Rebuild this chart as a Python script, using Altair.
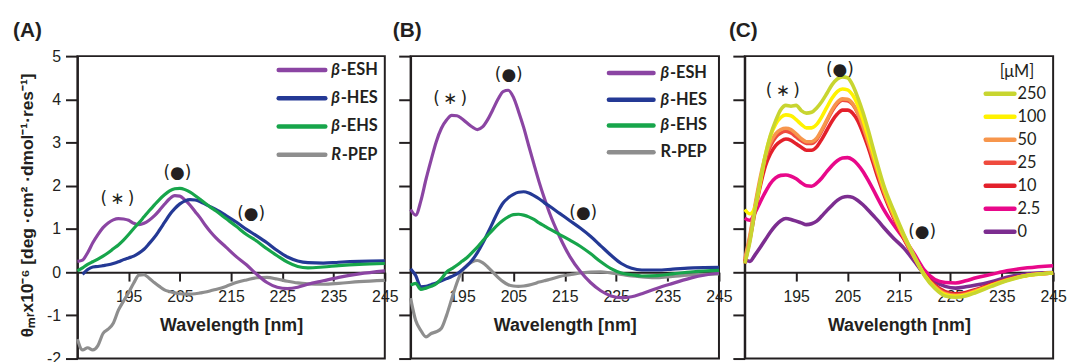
import altair as alt
import pandas as pd

# ---------------- data ----------------
WL = [185, 186, 187, 188, 189, 190, 191, 192, 193, 194, 195, 196, 197, 198, 199,
      200, 201, 202, 203, 204, 205, 206, 207, 208, 209, 210, 211, 212,
      214, 216, 218, 220, 222, 224, 226, 228, 230, 233, 236, 240, 245]

# Panel A
A_ESH = [0.25, 0.28, 0.45, 0.68, 0.87, 1.03, 1.14, 1.21, 1.24, 1.23, 1.2, 1.13, 1.1, 1.13, 1.2,
         1.3, 1.43, 1.57, 1.7, 1.77, 1.76, 1.67, 1.55, 1.4, 1.25, 1.08, 0.93, 0.8,
         0.58, 0.36, 0.17, -0.05, -0.24, -0.35, -0.38, -0.35, -0.28, -0.2, -0.12, -0.04, 0.03]
A_HES = [None, -0.05, 0.06, 0.12, 0.13, 0.15, 0.17, 0.2, 0.24, 0.29, 0.33, 0.37, 0.44, 0.53, 0.66,
         0.8, 0.97, 1.15, 1.33, 1.47, 1.58, 1.65, 1.68, 1.67, 1.63, 1.57, 1.51, 1.45,
         1.31, 1.16, 0.99, 0.84, 0.68, 0.5, 0.35, 0.26, 0.22, 0.21, 0.23, 0.25, 0.26]
A_EHS = [0.03, 0.1, 0.18, 0.24, 0.3, 0.37, 0.45, 0.54, 0.63, 0.74, 0.87, 1.01, 1.14, 1.28, 1.42,
         1.55, 1.68, 1.79, 1.88, 1.93, 1.94, 1.91, 1.85, 1.77, 1.68, 1.59, 1.5, 1.42,
         1.24, 1.06, 0.87, 0.72, 0.54, 0.38, 0.23, 0.13, 0.1, 0.12, 0.15, 0.18, 0.2]
A_PEP = [-1.55, -1.8, -1.75, -1.8, -1.7, -1.42, -1.32, -1.18, -0.88, -0.67, -0.47, -0.25, -0.07, -0.06, -0.14,
         -0.24, -0.33, -0.41, -0.45, -0.48, -0.5, -0.51, -0.51, -0.5, -0.48, -0.46, -0.43, -0.4,
         -0.33, -0.24, -0.18, -0.13, -0.12, -0.16, -0.21, -0.25, -0.27, -0.28, -0.26, -0.22, -0.19]

# Panel B
B_ESH = [1.45, 1.32, 1.65, 2.15, 2.6, 3.02, 3.33, 3.52, 3.63, 3.62, 3.55, 3.45, 3.36, 3.3, 3.36,
         3.53, 3.76, 4.0, 4.18, 4.21, 4.05, 3.72, 3.35, 2.92, 2.5, 2.09, 1.72, 1.38,
         0.82, 0.36, 0.02, -0.24, -0.43, -0.55, -0.59, -0.57, -0.5, -0.37, -0.26, -0.12, -0.02]
B_HES = [0.08, -0.08, -0.34, -0.33, -0.29, -0.25, -0.2, -0.15, -0.1, -0.04, 0.05, 0.15, 0.28, 0.45, 0.66,
         0.9, 1.15, 1.4, 1.6, 1.72, 1.8, 1.85, 1.86, 1.83, 1.77, 1.7, 1.61, 1.53,
         1.36, 1.19, 1.02, 0.83, 0.61, 0.39, 0.2, 0.09, 0.05, 0.05, 0.07, 0.1, 0.11]
B_EHS = [-0.3, -0.26, -0.4, -0.37, -0.33, -0.27, -0.15, 0.0, 0.08, 0.16, 0.25, 0.34, 0.46, 0.58, 0.72,
         0.85, 0.98, 1.1, 1.2, 1.28, 1.33, 1.34, 1.32, 1.28, 1.22, 1.14, 1.07, 1.0,
         0.87, 0.74, 0.6, 0.43, 0.24, 0.08, -0.02, -0.06, -0.09, -0.08, -0.04, 0.01, 0.04]
B_PEP = [-0.6, -1.12, -1.35, -1.5, -1.42, -1.38, -1.3, -1.0, -0.62, -0.25, 0.02, 0.16, 0.24, 0.27, 0.22,
         0.12, 0.0, -0.12, -0.22, -0.29, -0.32, -0.33, -0.32, -0.3, -0.27, -0.23, -0.2, -0.17,
         -0.1, -0.06, -0.02, 0.0, 0.01, -0.02, -0.05, -0.09, -0.11, -0.13, -0.1, -0.06, -0.04]

# Panel C (concentration series, uM)
C_0 = [0.3, 0.25, 0.4, 0.57, 0.75, 0.93, 1.08, 1.19, 1.24, 1.22, 1.18, 1.14, 1.1, 1.12, 1.18,
       1.3, 1.43, 1.55, 1.66, 1.73, 1.75, 1.73, 1.66, 1.56, 1.44, 1.31, 1.18, 1.04,
       0.78, 0.55, 0.25, -0.05, -0.22, -0.33, -0.37, -0.34, -0.3, -0.22, -0.12, -0.04, -0.01]
C_2P5 = [1.25, 1.2, 1.38, 1.62, 1.85, 2.05, 2.18, 2.24, 2.25, 2.22, 2.16, 2.07, 2.0, 1.99, 2.06,
         2.18, 2.33, 2.47, 2.58, 2.64, 2.65, 2.6, 2.49, 2.33, 2.13, 1.91, 1.68, 1.46,
         1.09, 0.77, 0.42, 0.04, -0.17, -0.24, -0.25, -0.2, -0.13, -0.05, 0.03, 0.1, 0.15]
C_10 = [0.2, 0.75, 1.4, 1.98, 2.45, 2.74, 2.93, 3.03, 3.08, 3.05, 2.97, 2.89, 2.82, 2.82, 2.9,
        3.08, 3.29, 3.5, 3.66, 3.75, 3.75, 3.68, 3.5, 3.22, 2.89, 2.52, 2.15, 1.82,
        1.25, 0.76, 0.33, -0.05, -0.3, -0.45, -0.5, -0.47, -0.4, -0.28, -0.17, -0.07, -0.02]
C_25 = [0.25, 0.8, 1.5, 2.1, 2.6, 2.92, 3.12, 3.22, 3.26, 3.22, 3.13, 3.04, 2.98, 2.98, 3.07,
        3.27, 3.5, 3.73, 3.9, 3.98, 3.97, 3.88, 3.67, 3.36, 3.0, 2.62, 2.24, 1.88,
        1.29, 0.79, 0.34, -0.06, -0.33, -0.48, -0.53, -0.5, -0.42, -0.3, -0.18, -0.07, -0.02]
C_50 = [0.3, 0.85, 1.55, 2.18, 2.68, 3.0, 3.2, 3.3, 3.33, 3.3, 3.2, 3.09, 3.02, 3.02, 3.1,
        3.3, 3.53, 3.76, 3.93, 4.01, 4.0, 3.9, 3.69, 3.38, 3.02, 2.64, 2.26, 1.9,
        1.3, 0.8, 0.34, -0.07, -0.34, -0.5, -0.54, -0.51, -0.43, -0.3, -0.18, -0.07, -0.02]
C_100 = [1.45, 1.35, 1.5, 2.05, 2.7, 3.15, 3.42, 3.58, 3.64, 3.62, 3.53, 3.42, 3.34, 3.34, 3.42,
         3.6, 3.82, 4.03, 4.18, 4.24, 4.22, 4.1, 3.87, 3.53, 3.15, 2.75, 2.35, 1.98,
         1.36, 0.84, 0.36, -0.07, -0.36, -0.52, -0.56, -0.53, -0.45, -0.31, -0.19, -0.08, -0.02]
C_250 = [0.2, 0.7, 1.45, 2.1, 2.7, 3.17, 3.5, 3.76, 3.86, 3.84, 3.86, 3.74, 3.68, 3.7, 3.8,
         3.95, 4.14, 4.34, 4.47, 4.52, 4.5, 4.33, 4.04, 3.7, 3.3, 2.86, 2.43, 2.03,
         1.42, 0.86, 0.36, -0.09, -0.38, -0.55, -0.58, -0.55, -0.47, -0.33, -0.2, -0.08, -0.02]

AB_NAMES = ["\u03b2-ESH", "\u03b2-HES", "\u03b2-EHS", "R-PEP"]
AB_COLORS = ["#8b45a3", "#243995", "#17a54b", "#8e8e8e"]
C_NAMES = ["250", "100", "50", "25", "10", "2.5", "0"]
C_COLORS = ["#c8d530", "#fff200", "#f7964c", "#ef4b3e", "#e3202b", "#e8088a", "#7c2d90"]

ANN_TEXT = ["(\u2009\u2217\u2009)", "(\u25cf)", "(\u25cf)"]
ANN_A_WL = [192.8, 204.5, 218.9]
ANN_A_VAL = [1.7, 2.3, 1.35]
ANN_B_WL = [192.7, 204.1, 218.6]
ANN_B_VAL = [4.0, 4.57, 1.36]
ANN_C_WL = [192.4, 203.5, 219.5]
ANN_C_VAL = [4.19, 4.68, 0.92]

X_TICKS = [195, 205, 215, 225, 235, 245]
Y_TICKS = [-2, -1, 0, 1, 2, 3, 4, 5]
Y_TITLE = "\u03b8\u2098\u1d63x10\u207b\u2076 [deg \u00b7cm\u00b2 \u00b7dmol\u207b\u00b9\u00b7res\u207b\u00b9]"

# ---------------- styling / layout ----------------
H = 305
INK = "#231f20"
AXF = "Liberation Sans"
LGF = "Lato"
ANF = "DejaVu Sans"
DUMMY = pd.DataFrame({"d": [0]})


def xenc():
    return alt.X("wl:Q", scale=alt.Scale(domain=[185, 245], nice=False, zero=False),
                 axis=alt.Axis(values=X_TICKS, title="Wavelength [nm]", offset=-(H * 2 / 7),
                               grid=False, labelFlush=False, labelOverlap=False,
                               domainColor=INK, domainWidth=2, tickColor=INK, tickWidth=2, tickSize=9,
                               labelFont=AXF, labelFontSize=16, labelColor=INK, labelPadding=8,
                               titleFont=AXF, titleFontSize=18, titleFontWeight="bold",
                               titleColor=INK, titlePadding=12))


def yenc(show):
    if show:
        ax = alt.Axis(values=Y_TICKS, grid=False, domainColor=INK, domainWidth=2, tickColor=INK,
                      tickWidth=2, tickSize=12, labelFont=AXF, labelFontSize=16, labelColor=INK,
                      labelPadding=5, labelExpr="'' + datum.value",
                      title=Y_TITLE, titleFont=AXF, titleFontSize=17.5, titleFontWeight="bold",
                      titleColor=INK, titleX=-50, titleY=150, titleBaseline="middle")
    else:
        ax = alt.Axis(values=Y_TICKS, grid=False, labels=False, title=None, domainColor=INK,
                      domainWidth=2, tickColor=INK, tickWidth=2, tickSize=12)
    return alt.Y("val:Q", scale=alt.Scale(domain=[-2, 5], nice=False, zero=False), axis=ax)


def curve(vals, color, sw=3.2):
    df = pd.DataFrame({"wl": WL, "val": vals}).dropna()
    return alt.Chart(df).mark_line(color=color, strokeWidth=sw, interpolate="monotone").encode(
        x=xenc(), y=yenc(True))


def text_at(x, y, t, size, weight="normal", style="normal", font=LGF, align="left", color=INK):
    return alt.Chart(DUMMY).mark_text(font=font, fontSize=size, fontWeight=weight, fontStyle=style,
                                      align=align, baseline="middle", color=color).encode(
        x=alt.value(x), y=alt.value(y), text=alt.value(t))


def swatch(x1, x2, y, color, sw=4.5):
    return alt.Chart(DUMMY).mark_rule(color=color, strokeWidth=sw, strokeCap="round").encode(
        x=alt.value(x1), x2=alt.value(x2), y=alt.value(y))


def annotations(wls, vals):
    df = pd.DataFrame({"wl": wls, "val": vals, "t": ANN_TEXT})
    return alt.Chart(df).mark_text(font=ANF, fontSize=17, color=INK, baseline="middle").encode(
        x=xenc(), y=yenc(True), text="t:N")


def panel(width, series, ann, show_y, label, label_x, legend, sw):
    base = alt.Chart(pd.DataFrame({"wl": [185], "val": [0]})).mark_point(opacity=0).encode(
        x=xenc(), y=yenc(show_y))
    layers = [base]
    for vals, col in series:
        layers.append(curve(vals, col, sw))
    layers.append(annotations(*ann))
    layers.append(text_at(label_x, -25, label, 21, weight="bold", font=AXF))
    layers.extend(legend)
    return alt.layer(*layers).properties(width=width, height=H)


# legends
def ab_legend(x1, x2, tx, rows, italic_r):
    out = []
    for i, (name, col) in enumerate(zip(AB_NAMES, AB_COLORS)):
        out.append(swatch(x1, x2, rows[i], col))
        head, rest = name[0], name[1:]
        if head == "\u03b2" or italic_r:
            out.append(text_at(tx, rows[i], head, 16.5, weight="bold", style="italic"))
            out.append(text_at(tx + (9.5 if head == "\u03b2" else 10.5), rows[i], rest, 16.5, weight="bold"))
        else:
            out.append(text_at(tx, rows[i], name, 16.5, weight="bold"))
    return out


leg_a = ab_legend(203, 250, 256, [14, 42.5, 71, 99.5], True)
leg_b = ab_legend(200, 245, 252, [17, 44, 70, 97], False)
leg_c = [text_at(292, 16, "[\u03bcM]", 16.5, align="right")]
for i, (name, col) in enumerate(zip(C_NAMES, C_COLORS)):
    y = 38 + 23.2 * i
    leg_c.append(swatch(243, 272, y, col))
    leg_c.append(text_at(275, y, name, 16.5))

AB_ORDER = [3, 0, 1, 2]
ser_a = [([A_ESH, A_HES, A_EHS, A_PEP][k], AB_COLORS[k]) for k in AB_ORDER]
ser_b = [([B_ESH, B_HES, B_EHS, B_PEP][k], AB_COLORS[k]) for k in AB_ORDER]
C_VALS = [C_250, C_100, C_50, C_25, C_10, C_2P5, C_0]
ser_c = [(C_VALS[k], C_COLORS[k]) for k in [6, 5, 4, 3, 2, 1, 0]]

pa = panel(310, ser_a, (ANN_A_WL, ANN_A_VAL), True, "(A)", -65, leg_a, 3.2)
pb = panel(311, ser_b, (ANN_B_WL, ANN_B_VAL), False, "(B)", -18, leg_b, 3.2)
pc = panel(311, ser_c, (ANN_C_WL, ANN_C_VAL), False, "(C)", -16, leg_c, 3.6)

chart = alt.hconcat(pa, pb, pc, spacing=26, bounds="flush").properties(
    padding={"left": 4, "top": 10, "right": 0, "bottom": 0}
).configure_view(stroke=INK, strokeWidth=2)

chart.save("out.html", embed_options={"renderer": "svg", "actions": False})
